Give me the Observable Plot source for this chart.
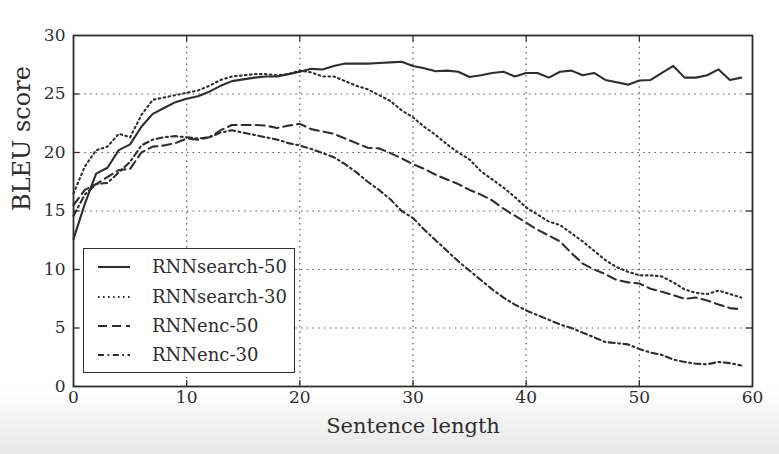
<!DOCTYPE html>
<html>
<head>
<meta charset="utf-8">
<script src="https://cdn.jsdelivr.net/npm/d3@7"></script>
<script src="https://cdn.jsdelivr.net/npm/@observablehq/plot@0.6"></script>
<style>
  html, body { margin: 0; padding: 0; }
  body {
    width: 779px; height: 454px; overflow: hidden; position: relative;
    background: linear-gradient(#ffffff 0px, #ffffff 388px, #e7e7e7 454px);
    font-family: "DejaVu Serif", serif; color: #2e2e2e;
  }
  #chart { position: absolute; left: 0; top: 0; }
  #chart text { font-family: "DejaVu Serif", serif; }
  #legend {
    position: absolute; left: 83px; top: 248px; width: 212px; height: 125px;
    border: 1.6px solid #2e2e2e; background: #fff; box-sizing: border-box;
  }
  .row { position: absolute; left: 0; height: 26px; display: flex; align-items: center; white-space: nowrap; }
  .row svg { margin-left: 14px; margin-right: 22px; flex: none; }
  .row span { font-size: 18px; line-height: 26px; color: #2e2e2e; white-space: nowrap; }
</style>
</head>
<body>
<div id="chart"></div>
<div id="legend"></div>
<script>
// Sentence length (x) 0..59
const lengths = [0,1,2,3,4,5,6,7,8,9,10,11,12,13,14,15,16,17,18,19,20,21,22,23,24,25,26,27,28,29,
                 30,31,32,33,34,35,36,37,38,39,40,41,42,43,44,45,46,47,48,49,50,51,52,53,54,55,56,57,58,59];

const seriesNames = ["RNNsearch-50", "RNNsearch-30", "RNNenc-50", "RNNenc-30"];

const rnnsearch50 = [12.6,15.6,18.2,18.7,20.2,20.7,22.2,23.3,23.8,24.3,24.6,24.8,25.2,25.7,26.1,26.25,26.4,26.5,26.5,26.7,
                     26.9,27.15,27.1,27.4,27.6,27.6,27.6,27.65,27.7,27.75,27.4,27.2,26.95,27.0,26.9,26.45,26.6,26.8,26.9,26.5,
                     26.8,26.8,26.4,26.9,27.0,26.6,26.8,26.2,26.0,25.8,26.15,26.2,26.8,27.4,26.4,26.4,26.6,27.1,26.2,26.4];
const rnnsearch30 = [16.5,18.8,20.2,20.5,21.6,21.3,23.2,24.5,24.7,24.9,25.1,25.3,25.7,26.2,26.5,26.6,26.7,26.7,26.6,26.7,
                     27.0,26.85,26.5,26.5,26.1,25.7,25.4,24.9,24.4,23.6,23.0,22.2,21.5,20.7,20.0,19.4,18.4,17.7,17.0,16.2,
                     15.3,14.7,14.1,13.8,13.1,12.4,11.6,10.8,10.2,9.8,9.5,9.5,9.4,8.9,8.3,8.0,7.9,8.2,7.9,7.6];
const rnnenc50 = [15.5,16.8,17.3,17.9,18.5,18.6,20.0,20.5,20.6,20.8,21.2,21.1,21.3,21.9,22.35,22.35,22.35,22.3,22.1,22.3,
                  22.45,22.0,21.8,21.6,21.2,20.8,20.4,20.35,19.95,19.5,19.0,18.6,18.1,17.7,17.3,16.8,16.4,15.9,15.2,14.6,
                  14.0,13.4,12.9,12.4,11.4,10.5,10.0,9.6,9.1,8.9,8.8,8.35,8.1,7.8,7.5,7.6,7.35,7.0,6.7,6.6];
const rnnenc30 = [14.6,16.4,17.3,17.4,18.3,19.2,20.6,21.1,21.3,21.4,21.3,21.2,21.3,21.7,21.9,21.7,21.5,21.3,21.1,20.8,
                  20.6,20.3,19.95,19.6,19.0,18.3,17.5,16.8,16.0,15.0,14.4,13.4,12.5,11.6,10.7,9.9,9.1,8.3,7.6,7.0,
                  6.5,6.1,5.7,5.3,5.0,4.6,4.2,3.8,3.7,3.6,3.2,2.9,2.7,2.3,2.1,1.95,1.9,2.1,2.0,1.8];

const xTickLabels = [0,10,20,30,40,50,60];
const yTickLabels = [0,5,10,15,20,25,30];
const xLabel = "Sentence length";
const yLabel = "BLEU score";

const seriesValues = [rnnsearch50, rnnsearch30, rnnenc50, rnnenc30];
const dashes = [null, "1.6,3.4", "9,5", "6,3.5,1.8,3.5"];
const ink = "#2e2e2e";
const serif = "'DejaVu Serif', serif";

const W = 779, H = 454, mL = 73, mR = 27, mT = 35, mB = 68;
const innerW = W - mL - mR, innerH = H - mT - mB;
const tickLen = 6;

const lineMarks = seriesNames.map((name, i) => {
  const data = lengths.map((x, j) => ({x, y: seriesValues[i][j], series: name}));
  return Plot.line(data, {
    x: "x", y: "y", stroke: ink, strokeWidth: 2.1,
    strokeDasharray: dashes[i] || undefined, strokeLinejoin: "round"
  });
});

const innerX = xTickLabels.slice(1, -1);
const innerY = yTickLabels.slice(1, -1);

const chart = Plot.plot({
  width: W, height: H,
  marginLeft: mL, marginRight: mR, marginTop: mT, marginBottom: mB,
  x: {domain: [0, 60]},
  y: {domain: [0, 30]},
  style: {fontFamily: serif, fontSize: "18px", color: ink, background: "transparent"},
  marks: [
    Plot.gridX(innerX, {stroke: "#444", strokeOpacity: 0.9, strokeWidth: 1.2, strokeDasharray: "1.5,4.2"}),
    Plot.gridY(innerY, {stroke: "#444", strokeOpacity: 0.9, strokeWidth: 1.2, strokeDasharray: "1.5,4.2"}),
    ...lineMarks,
    Plot.tickX(innerX, {x: d => d, stroke: ink, strokeWidth: 1.3, insetTop: innerH - tickLen}),
    Plot.tickX(innerX, {x: d => d, stroke: ink, strokeWidth: 1.3, insetBottom: innerH - tickLen}),
    Plot.tickY(innerY, {y: d => d, stroke: ink, strokeWidth: 1.3, insetRight: innerW - tickLen}),
    Plot.tickY(innerY, {y: d => d, stroke: ink, strokeWidth: 1.3, insetLeft: innerW - tickLen}),
    Plot.axisX(xTickLabels, {tickSize: 0, tickPadding: 4, fontSize: 17, label: null, fill: ink}),
    Plot.axisY(yTickLabels, {tickSize: 0, tickPadding: 8, fontSize: 17, label: null, fill: ink}),
    Plot.frame({stroke: ink, strokeWidth: 1.8}),
    Plot.text([xLabel], {text: d => d, frameAnchor: "bottom", dy: 46, fontSize: 21, fill: ink}),
    Plot.text([yLabel], {text: d => d, frameAnchor: "left", dx: -51, rotate: -90, fontSize: 24, fill: ink})
  ]
});
document.getElementById("chart").appendChild(chart);

// Legend
const legend = document.getElementById("legend");
const rowCenters = [18, 47.5, 77, 106];
seriesNames.forEach((name, i) => {
  const row = document.createElement("div");
  row.className = "row";
  row.style.top = (rowCenters[i] - 13) + "px";
  const dash = dashes[i] ? ` stroke-dasharray="${dashes[i]}"` : "";
  row.innerHTML = `<svg width="32" height="10"><line x1="0" y1="5" x2="32" y2="5" stroke="${ink}" stroke-width="2.1"${dash}/></svg><span>${name}</span>`;
  legend.appendChild(row);
});
</script>
</body>
</html>
